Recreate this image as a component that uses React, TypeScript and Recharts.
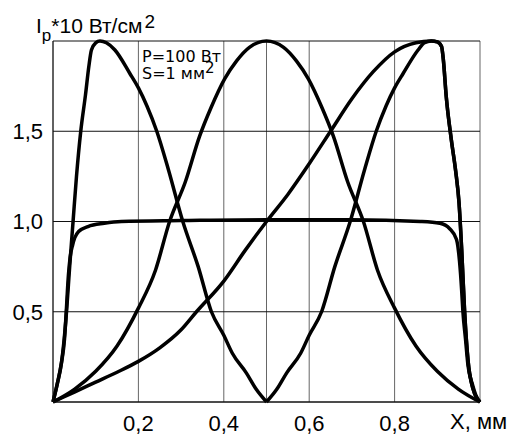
import { LineChart, Line, XAxis, YAxis, CartesianGrid } from "recharts"

// flat-top profile (~1.0 across the spot)
const flatX = [0, 0.01, 0.02, 0.027, 0.031, 0.036, 0.04, 0.046, 0.051, 0.06, 0.082, 0.12, 0.16, 0.3, 0.5, 0.7, 0.86, 0.906, 0.929, 0.945, 0.952, 0.957, 0.96, 0.966, 0.972, 0.982, 0.99, 1]
const flatY = [0, 0.1, 0.22, 0.35, 0.5, 0.7, 0.8, 0.87, 0.91, 0.945, 0.972, 0.99, 1.0, 1.005, 1.01, 1.01, 1.0, 0.99, 0.96, 0.9, 0.78, 0.62, 0.5, 0.35, 0.2, 0.1, 0.04, 0]

// peak near left edge
const leftX = [0, 0.01, 0.02, 0.03, 0.04, 0.047, 0.055, 0.065, 0.076, 0.084, 0.09, 0.1, 0.11, 0.125, 0.145, 0.18, 0.2, 0.22, 0.243, 0.27, 0.304, 0.34, 0.371, 0.4, 0.42, 0.453, 0.476, 0.5]
const leftY = [0, 0.1, 0.22, 0.45, 0.78, 1.0, 1.25, 1.5, 1.7, 1.86, 1.95, 1.99, 2.0, 1.99, 1.95, 1.82, 1.74, 1.64, 1.5, 1.29, 1.0, 0.75, 0.5, 0.37, 0.27, 0.16, 0.07, 0]

// peak near right edge
const rightX = [0.5, 0.524, 0.547, 0.58, 0.6, 0.629, 0.66, 0.696, 0.73, 0.757, 0.78, 0.8, 0.82, 0.855, 0.87, 0.886, 0.9, 0.91, 0.914, 0.921, 0.933, 0.943, 0.951, 0.957, 0.964, 0.972, 0.984, 1]
const rightY = [0, 0.07, 0.16, 0.27, 0.37, 0.5, 0.75, 1.0, 1.29, 1.5, 1.64, 1.74, 1.82, 1.95, 1.99, 2.0, 1.995, 1.97, 1.9, 1.69, 1.45, 1.28, 1.1, 0.85, 0.5, 0.23, 0.07, 0]

// centred bell
const bellX = [0, 0.05, 0.1, 0.15, 0.2, 0.24, 0.273, 0.31, 0.343, 0.37, 0.402, 0.43, 0.46, 0.5, 0.54, 0.57, 0.598, 0.63, 0.657, 0.69, 0.727, 0.76, 0.8, 0.85, 0.9, 0.95, 1]
const bellY = [0, 0.07, 0.17, 0.31, 0.52, 0.73, 1.0, 1.22, 1.47, 1.63, 1.79, 1.89, 1.965, 2.0, 1.965, 1.89, 1.79, 1.63, 1.47, 1.22, 1.0, 0.73, 0.52, 0.31, 0.17, 0.07, 0]

// rising ramp
const rampX = [0, 0.05, 0.1, 0.15, 0.2, 0.25, 0.3, 0.336, 0.4, 0.45, 0.5, 0.55, 0.6, 0.65, 0.7, 0.75, 0.8, 0.85, 0.886, 0.9, 0.91, 0.914, 0.921, 0.933, 0.943, 0.951, 0.957, 0.964, 0.972, 0.984, 1]
const rampY = [0, 0.055, 0.11, 0.165, 0.225, 0.3, 0.4, 0.5, 0.67, 0.84, 1.0, 1.15, 1.32, 1.5, 1.68, 1.83, 1.94, 1.99, 2.0, 1.995, 1.97, 1.9, 1.69, 1.45, 1.28, 1.1, 0.85, 0.5, 0.23, 0.07, 0]

const xTicks = [0, 0.2, 0.4, 0.5, 0.6, 0.8, 1]
const xLabeled = [0.2, 0.4, 0.6, 0.8]
const yTicks = [0, 0.5, 1, 1.5, 2]
const yLabeled = [0.5, 1, 1.5]

const zip = (xs: number[], ys: number[]) => xs.map((x, i) => ({ x, y: ys[i] }))
const curves = [
  zip(flatX, flatY),
  zip(leftX, leftY),
  zip(rightX, rightY),
  zip(bellX, bellY),
  zip(rampX, rampY),
]

const comma = (v: number) => v.toFixed(1).replace(".", ",")
const font = "'Liberation Sans', Arial, sans-serif"
const noteFont = "'DejaVu Sans', sans-serif"

export default function App() {
  return (
    <div style={{ position: "relative", width: 510, height: 436, fontFamily: font }}>
      <style>{`body{margin:0}`}</style>
      <LineChart
        width={510}
        height={436}
        margin={{ top: 41, right: 30, left: 0, bottom: 4 }}
      >
        <CartesianGrid horizontal={false} stroke="#666" />
        <CartesianGrid vertical={false} stroke="#111" />
        <XAxis
          type="number"
          dataKey="x"
          domain={[0, 1]}
          ticks={xTicks}
          interval={0}
          height={30}
          axisLine={{ stroke: "#111" }}
          tickLine={false}
          tickMargin={7}
          tick={{ fill: "#000", fontSize: 22, fontFamily: font }}
          tickFormatter={(v: number) => (xLabeled.includes(v) ? comma(v) : "")}
          allowDuplicatedCategory={false}
        />
        <YAxis
          type="number"
          domain={[0, 2]}
          ticks={yTicks}
          interval={0}
          width={53}
          axisLine={{ stroke: "#111" }}
          tickLine={false}
          tickMargin={4}
          tick={{ fill: "#000", fontSize: 22, fontFamily: font }}
          tickFormatter={(v: number) => (yLabeled.includes(v) ? comma(v) : "")}
        />
        {curves.map((d, i) => (
          <Line
            key={i}
            data={d}
            dataKey="y"
            type="monotone"
            stroke="#000"
            strokeWidth={3.5}
            dot={false}
            isAnimationActive={false}
          />
        ))}
      </LineChart>
      <svg
        width={510}
        height={436}
        style={{ position: "absolute", left: 0, top: 0, pointerEvents: "none" }}
        fontFamily={font}
      >
        <text x={36} y={33} fontSize={21} fill="#000">
          I
          <tspan fontSize={17} dy={8}>р</tspan>
          <tspan fontSize={21} dy={-8}>*10 Вт/см</tspan>
          <tspan fontSize={19} dx={2} dy={-5}>2</tspan>
        </text>
        <text x={142} y={62} fontSize={16} fill="#000" fontFamily={noteFont}>P=100 Вт</text>
        <text x={142} y={79} fontSize={16} fill="#000" fontFamily={noteFont}>
          S=1 мм
          <tspan fontSize={15} dy={-6}>2</tspan>
        </text>
        <text x={450} y={429} fontSize={22} fill="#000">X, мм</text>
      </svg>
    </div>
  )
}
